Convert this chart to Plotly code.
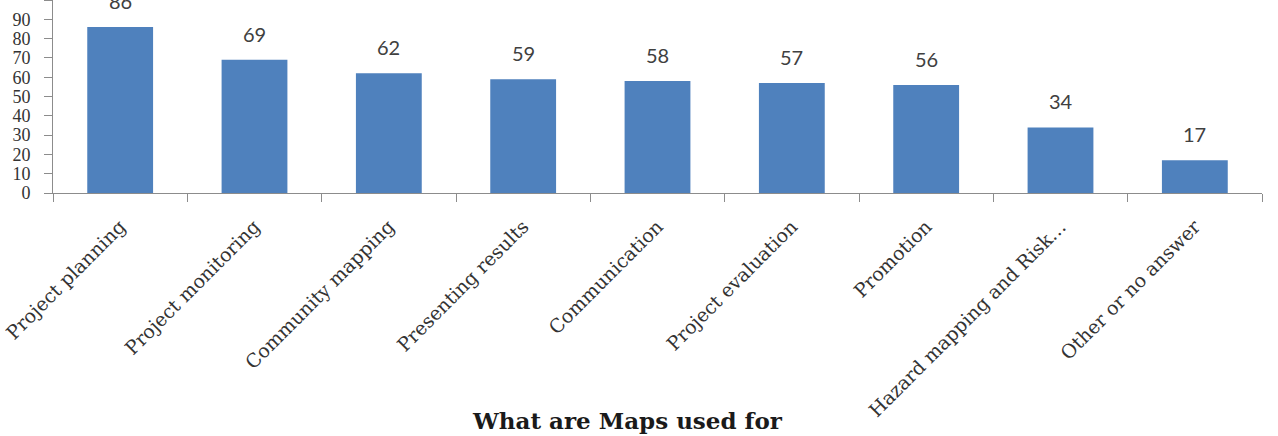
import plotly.graph_objects as go

categories = ["Project planning", "Project monitoring", "Community mapping", "Presenting results",
              "Communication", "Project evaluation", "Promotion", "Hazard mapping and Risk…",
              "Other or no answer"]
values = [86, 69, 62, 59, 58, 57, 56, 34, 17]
y_ticks = [0, 10, 20, 30, 40, 50, 60, 70, 80, 90, 100]
title_text = "What are Maps used for"

W, H = 1278, 436
m_l, m_r, m_t, m_b = 53, 16, 0, 243
plot_h = H - m_t - m_b

fig = go.Figure(go.Bar(
    x=categories, y=values, width=0.49,
    marker=dict(color="#4F81BD", line=dict(width=0)),
))

for c, v in zip(categories, values):
    fig.add_annotation(x=c, y=v, text=str(v), showarrow=False, xanchor="center",
                       yanchor="middle", yshift=26,
                       font=dict(family="Lato", size=20, color="#404040"))

fig.update_layout(
    width=W, height=H, margin=dict(l=m_l, r=m_r, t=m_t, b=m_b),
    plot_bgcolor="white", paper_bgcolor="white", showlegend=False,
    font=dict(family="DejaVu Serif", color="#404040"),
    xaxis=dict(showgrid=False, showline=True, linecolor="#8c8c8c", linewidth=1,
               ticks="outside", tickson="boundaries", ticklen=8, tickcolor="#8c8c8c",
               ticklabelstandoff=14,
               tickangle=-45, tickfont=dict(family="DejaVu Serif", size=19, color="#333333")),
    yaxis=dict(range=[0, 100], tickvals=y_ticks, showgrid=False, showline=True,
               linecolor="#8c8c8c", linewidth=1, ticks="outside", ticklen=8, tickcolor="#8c8c8c",
               ticklabelstandoff=10,
               zeroline=False, tickfont=dict(family="Liberation Serif", size=18, color="#333333")),
)
fig.add_annotation(text="<b>" + title_text + "</b>", xref="paper", yref="paper",
                   x=(627 - m_l) / (W - m_l - m_r), y=-(436 - plot_h) / plot_h,
                   xanchor="center", yanchor="bottom", showarrow=False,
                   font=dict(family="DejaVu Serif", size=23, color="#1a1a1a"))

fig.write_html("out.html")
